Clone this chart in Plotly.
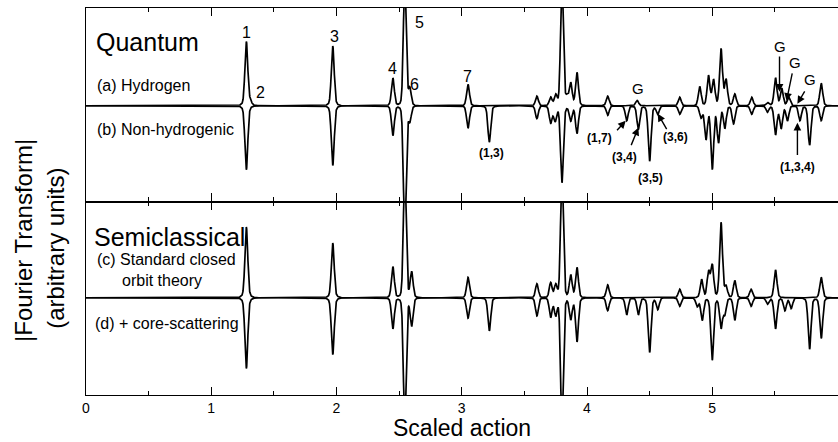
import numpy as np
import plotly.graph_objects as go
from plotly.subplots import make_subplots

# ---------------- data (heights in arbitrary units) ----------------
# Quantum, (a) Hydrogen  (plotted upward)
hyd_pos = [1.28, 1.31, 1.97, 2.45, 2.545, 2.585, 3.05, 3.60, 3.71, 3.75, 3.80, 3.84, 3.87, 3.92,
           4.165, 4.40, 4.74, 4.90, 4.97, 5.01, 5.07, 5.11, 5.18, 5.315, 5.44, 5.505, 5.555, 5.61, 5.87]
hyd_amp = [60, 4, 56, 26, 120, 16, 20, 9, 8, 10, 120, 8, 21, 31,
           9, 5, 8, 18, 28, 24, 53, 24, 11, 8, 3, 26, 16, 8, 21]

# Quantum, (b) Non-hydrogenic  (plotted downward)
nonhyd_pos = [1.28, 1.97, 2.45, 2.545, 2.585, 3.05, 3.22, 3.60, 3.71, 3.745, 3.80, 3.87, 3.92,
              4.165, 4.317, 4.41, 4.50, 4.565, 4.74, 4.91, 4.95, 5.00, 5.05, 5.10, 5.17,
              5.315, 5.44, 5.505, 5.55, 5.60, 5.70, 5.777, 5.87]
nonhyd_amp = [60, 56, 28, 120, 14, 21, 34, 12, 16, 14, 72, 14, 26,
              9, 14, 22, 52, 8, 8, 11, 31, 59, 34, 21, 17,
              8, 6, 27, 21, 14, 14, 37, 14]

# Semiclassical, (c) Standard closed orbit theory  (plotted upward)
cot_pos = [1.28, 1.97, 2.45, 2.545, 2.60, 3.05, 3.60, 3.71, 3.75, 3.80, 3.87, 3.92,
           4.165, 4.74, 4.915, 4.97, 5.00, 5.07, 5.11, 5.18, 5.31, 5.505, 5.87]
cot_amp = [66, 51, 29, 120, 24, 19, 13, 14, 12, 120, 21, 28,
           12, 8, 17, 24, 30, 70, 10, 16, 8, 26, 19]

# Semiclassical, (d) + core-scattering  (plotted downward)
core_pos = [1.28, 1.97, 2.45, 2.545, 2.60, 3.05, 3.22, 3.60, 3.71, 3.75, 3.80, 3.87, 3.92,
            4.165, 4.317, 4.41, 4.50, 4.565, 4.74, 4.88, 4.92, 5.00, 5.07, 5.10, 5.18,
            5.31, 5.44, 5.505, 5.58, 5.63, 5.777, 5.87]
core_amp = [66, 53, 29, 120, 26, 19, 31, 17, 18, 16, 120, 20, 41,
            12, 16, 16, 51, 11, 8, 8, 21, 58, 28, 15, 21,
            8, 6, 29, 12, 10, 48, 38]

x_tick_vals = [0, 1, 2, 3, 4, 5, 6]
x_tick_text = ["0", "1", "2", "3", "4", "5", "6"]

# ---------------- rendering of the peak lists ----------------
SPIKE_W = 0.011
LOBE_W = 0.028
LOBE_FRAC = 0.07
xs = np.linspace(0.0, 6.05, 6051)


def spectrum(pos, amp):
    ys = np.zeros_like(xs)
    for p, a in zip(pos, amp):
        d = xs - p
        ys += a * np.exp(-0.5 * (d / SPIKE_W) ** 2)
        ys += min(a * LOBE_FRAC, 5.0) * np.exp(-0.5 * (d / LOBE_W) ** 2)
    return ys


fig = make_subplots(rows=2, cols=1, shared_xaxes=True, vertical_spacing=0)
line = dict(color="black", width=1.7)
fig.add_trace(go.Scatter(x=xs, y=spectrum(hyd_pos, hyd_amp), mode="lines", line=line), row=1, col=1)
fig.add_trace(go.Scatter(x=xs, y=-spectrum(nonhyd_pos, nonhyd_amp), mode="lines", line=line), row=1, col=1)
fig.add_trace(go.Scatter(x=xs, y=spectrum(cot_pos, cot_amp), mode="lines", line=line), row=2, col=1)
fig.add_trace(go.Scatter(x=xs, y=-spectrum(core_pos, core_amp), mode="lines", line=line), row=2, col=1)

FONT = "Liberation Sans, Arial, Helvetica, sans-serif"

xa = dict(range=[0, 6.004], showline=True, linecolor="black", linewidth=1.4, mirror="allticks",
          ticks="inside", ticklen=8, tickwidth=1.3, tickcolor="black",
          tickvals=x_tick_vals, ticktext=x_tick_text, showgrid=False, zeroline=False,
          minor=dict(ticks="inside", ticklen=4, tickwidth=1.1, tickcolor="black", dtick=0.5, showgrid=False))
fig.update_xaxes(**xa)
fig.update_xaxes(showticklabels=False, row=1, col=1)
fig.update_xaxes(showticklabels=True, tickfont=dict(family=FONT, size=14, color="black"), row=2, col=1)

ya = dict(showline=True, linecolor="black", linewidth=1.4, mirror=False, ticks="",
          showticklabels=False, showgrid=False, zeroline=False)
fig.update_yaxes(**ya)
fig.update_yaxes(range=[-96, 98], domain=[0.5, 1.0], row=1, col=1)
fig.update_yaxes(range=[-97, 96], domain=[0.0, 0.5], row=2, col=1)

ann = []


def ptxt(text, x, y, size, xanchor="left"):
    ann.append(dict(text=text, x=x, y=y, xref="paper", yref="paper", showarrow=False,
                    xanchor=xanchor, yanchor="middle", font=dict(family=FONT, size=size, color="black")))


ptxt("Quantum", 0.011, 0.912, 25)
ptxt("(a) Hydrogen", 0.012, 0.801, 16)
ptxt("(b) Non-hydrogenic", 0.012, 0.685, 16)
ptxt("Semiclassical", 0.008, 0.408, 25)
ptxt("(c) Standard closed", 0.012, 0.349, 16)
ptxt("orbit theory", 0.045, 0.297, 16)
ptxt("(d) + core-scattering", 0.009, 0.186, 16)
ptxt("Scaled action", 0.5, -0.0845, 23, xanchor="center")
ann.append(dict(text="|Fourier Transform|", x=-0.0824, y=0.398, xref="paper", yref="paper",
                showarrow=False, textangle=-90, xanchor="center", yanchor="middle",
                font=dict(family=FONT, size=24, color="black")))
ann.append(dict(text="(arbitrary units)", x=-0.040, y=0.38, xref="paper", yref="paper",
                showarrow=False, textangle=-90, xanchor="center", yanchor="middle",
                font=dict(family=FONT, size=24, color="black")))


def dtxt(text, x, y, size, bold=False):
    t = "<b>%s</b>" % text if bold else text
    ann.append(dict(text=t, x=x, y=y, xref="x", yref="y", showarrow=False,
                    xanchor="center", yanchor="middle", font=dict(family=FONT, size=size, color="black")))


for t, x, y in [("1", 1.285, 73), ("2", 1.39, 13), ("3", 1.987, 69), ("4", 2.45, 37),
                ("5", 2.66, 83), ("6", 2.625, 21), ("7", 3.048, 29)]:
    dtxt(t, x, y, 16)
for t, x, y in [("G", 4.404, 17), ("G", 5.537, 59), ("G", 5.657, 43), ("G", 5.777, 26)]:
    dtxt(t, x, y, 15)
for t, x, y in [("(1,3)", 3.24, -47), ("(1,7)", 4.10, -32), ("(3,4)", 4.30, -51),
                ("(3,5)", 4.508, -72), ("(3,6)", 4.71, -31), ("(1,3,4)", 5.68, -61)]:
    dtxt(t, x, y, 12, bold=True)

for (tx, ty, hx, hy) in [(4.229, -26, 4.309, -15), (4.348, -41, 4.41, -22), (4.643, -25, 4.565, -8),
                         (5.537, 51, 5.537, 14), (5.641, 34, 5.593, 5), (5.745, 16, 5.68, 2),
                         (5.68, -51, 5.68, -17)]:
    ann.append(dict(text="", x=hx, y=hy, ax=tx, ay=ty, xref="x", yref="y", axref="x", ayref="y",
                    showarrow=True, arrowhead=2, arrowsize=1.1, arrowwidth=1.4, arrowcolor="black"))

fig.update_layout(width=838, height=442, margin=dict(l=86, r=0, t=8, b=47),
                  paper_bgcolor="white", plot_bgcolor="white", showlegend=False,
                  annotations=ann, font=dict(family=FONT, color="black"))

fig.write_html("out.html", config={"displayModeBar": False},
               post_script="document.body.style.margin='0';document.body.style.overflow='hidden';")
